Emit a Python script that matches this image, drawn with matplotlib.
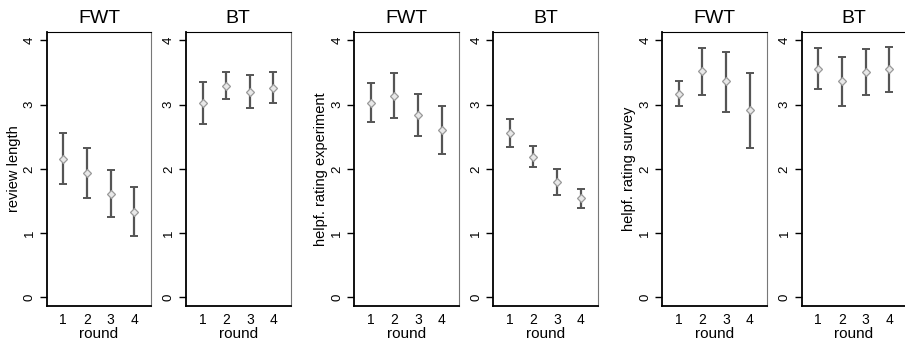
import matplotlib
matplotlib.use("Agg")
import matplotlib.pyplot as plt

plt.rcParams['font.family'] = ['Liberation Sans', 'DejaVu Sans']

rounds = [1, 2, 3, 4]
groups = ["FWT", "BT"]
measures = ["review length", "helpf. rating experiment", "helpf. rating survey"]

# means and 95% CI bounds
review_fwt_mean = [2.16, 1.94, 1.61, 1.33]
review_fwt_lo = [1.76, 1.55, 1.25, 0.95]
review_fwt_hi = [2.56, 2.32, 1.98, 1.71]
review_bt_mean = [3.02, 3.29, 3.20, 3.26]
review_bt_lo = [2.70, 3.08, 2.94, 3.03]
review_bt_hi = [3.35, 3.51, 3.46, 3.50]

exp_fwt_mean = [3.03, 3.14, 2.84, 2.60]
exp_fwt_lo = [2.73, 2.79, 2.51, 2.23]
exp_fwt_hi = [3.33, 3.49, 3.16, 2.97]
exp_bt_mean = [2.56, 2.19, 1.79, 1.54]
exp_bt_lo = [2.34, 2.03, 1.59, 1.39]
exp_bt_hi = [2.78, 2.35, 2.00, 1.69]

survey_fwt_mean = [3.17, 3.52, 3.36, 2.91]
survey_fwt_lo = [2.98, 3.15, 2.88, 2.33]
survey_fwt_hi = [3.36, 3.88, 3.82, 3.49]
survey_bt_mean = [3.56, 3.36, 3.51, 3.55]
survey_bt_lo = [3.24, 2.97, 3.15, 3.19]
survey_bt_hi = [3.88, 3.74, 3.86, 3.90]

panels = [
    (review_fwt_mean, review_fwt_lo, review_fwt_hi),
    (review_bt_mean, review_bt_lo, review_bt_hi),
    (exp_fwt_mean, exp_fwt_lo, exp_fwt_hi),
    (exp_bt_mean, exp_bt_lo, exp_bt_hi),
    (survey_fwt_mean, survey_fwt_lo, survey_fwt_hi),
    (survey_bt_mean, survey_bt_lo, survey_bt_hi),
]

W, H = 905, 343
fig = plt.figure(figsize=(W / 100, H / 100), dpi=100)

lefts = [46.7, 186, 354.3, 493.3, 662.3, 801.7]
ax_w = 104.5
ax_top, ax_bot = 31.7, 306

for i, (mean, lo, hi) in enumerate(panels):
    ax = fig.add_axes([lefts[i] / W, (H - ax_bot) / H, ax_w / W, (ax_bot - ax_top) / H])
    err = [[m - l for m, l in zip(mean, lo)], [h - m for m, h in zip(mean, hi)]]
    ax.errorbar(rounds, mean, yerr=err, fmt='none', ecolor='#555555',
                elinewidth=1.6, capsize=3, capthick=1.4, zorder=2)
    ax.plot(rounds, mean, linestyle='none', marker='D', markersize=4,
            mfc='#e8e8e8', mec='#999999', mew=0.9, zorder=3)
    ax.set_xlim(0.3, 4.72)
    ax.set_ylim(-0.135, 4.134)
    ax.set_xticks(rounds)
    ax.set_yticks([0, 1, 2, 3, 4])
    ax.tick_params(axis='x', length=0, pad=5, labelsize=10)
    ax.tick_params(axis='y', length=5, width=1, pad=3, labelsize=9.5,
                   labelrotation=90)
    for lab in ax.get_yticklabels():
        lab.set_va('center')
    ax.spines['left'].set_linewidth(1.3)
    ax.spines['bottom'].set_linewidth(1.3)
    ax.spines['top'].set_linewidth(0.8)
    ax.spines['right'].set_linewidth(0.8)
    ax.spines['right'].set_color('#777777')
    ax.set_title(groups[i % 2], fontsize=14, pad=6)
    ax.set_xlabel('round', fontsize=11, labelpad=0)
    if i % 2 == 0:
        ax.set_ylabel(measures[i // 2], fontsize=10.5, labelpad=2)

fig.savefig('out.png', dpi=100)
